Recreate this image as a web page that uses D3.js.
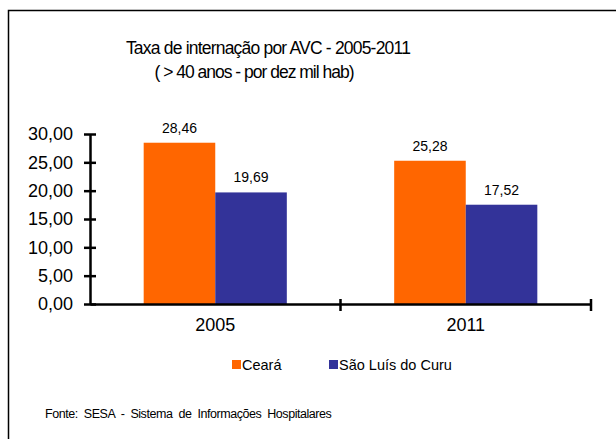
<!DOCTYPE html>
<html><head><meta charset="utf-8">
<script src="https://cdn.jsdelivr.net/npm/d3@7"></script>
<style>
html,body{margin:0;padding:0;background:#fff;}
svg{display:block;font-family:"Liberation Sans",Arial,sans-serif;}
</style></head>
<body><svg id="c" width="616" height="439"></svg>
<script>
const categories = ["2005", "2011"];
const seriesNames = ["Ceará", "São Luís do Curu"];
const cearaValues = [28.46, 25.28];
const saoLuisValues = [19.69, 17.52];
const yTicks = [0, 5, 10, 15, 20, 25, 30];
const colors = ["#FF6600", "#333399"];

const svg = d3.select("#c");
// frame
svg.append("path").attr("d","M8.5,439 V10.5 H616").attr("fill","none").attr("stroke","#000").attr("stroke-width",1.5);

const x0 = d3.scaleBand().domain(categories).range([90, 591]).paddingInner(0).paddingOuter(0);
const x1 = d3.scaleBand().domain(seriesNames).range([0, x0.bandwidth()]).paddingInner(0).paddingOuter(0.75);
const y = d3.scaleLinear().domain([0, 30]).range([304, 134]);

const fmt = v => d3.format(".2f")(v).replace(".", ",");
const data = categories.map((c,i)=>({cat:c, vals:[cearaValues[i], saoLuisValues[i]]}));

const g = svg.append("g");
data.forEach(d=>{
  d.vals.forEach((v,j)=>{
    const xx = x0(d.cat) + x1(seriesNames[j]);
    g.append("rect").attr("x", xx).attr("y", y(v)).attr("width", x1.bandwidth()).attr("height", y(0)-y(v)).attr("fill", colors[j]);
    g.append("text").attr("x", xx + x1.bandwidth()/2).attr("y", y(v) - 10)
      .attr("text-anchor","middle").attr("font-size",14).attr("fill","#000").text(fmt(v));
  });
});

// y axis
const yAxis = d3.axisLeft(y).tickValues(yTicks).tickFormat(fmt).tickSizeInner(6).tickSizeOuter(0).tickPadding(11);
const ya = svg.append("g").attr("transform","translate(90,0)").call(yAxis);
ya.select(".domain").attr("stroke","#000").attr("stroke-width",2.5);
ya.selectAll(".tick line").attr("x2",-6).attr("x1",6).attr("stroke","#000").attr("stroke-width",2.5);
ya.selectAll(".tick text").attr("font-size",18).attr("fill","#000").attr("font-family","Liberation Sans, Arial, sans-serif");

// x axis
const xAxis = d3.axisBottom(x0).tickSize(0).tickPadding(14);
const xa = svg.append("g").attr("transform","translate(0,304)").call(xAxis);
xa.select(".domain").attr("stroke","#000").attr("stroke-width",2.5);
xa.selectAll(".tick text").attr("font-size",18).attr("fill","#000").attr("font-family","Liberation Sans, Arial, sans-serif");
// boundary ticks
const bounds = [x0.range()[0], x0(categories[1]), x0.range()[1]];
xa.selectAll(".bt").data(bounds.slice(1)).enter().append("line")
  .attr("x1",d=>d).attr("x2",d=>d).attr("y1",-5).attr("y2",7).attr("stroke","#000").attr("stroke-width",2.5);

// title
const t = svg.append("text").attr("text-anchor","middle").attr("font-size",17.5).attr("fill","#000");
t.append("tspan").attr("x",268).attr("y",54).attr("letter-spacing",-0.8).text("Taxa de internação por AVC - 2005-2011");
t.append("tspan").attr("x",254).attr("y",78).attr("letter-spacing",-1.0).text("( > 40 anos - por dez mil hab)");

// legend
const lg = svg.append("g");
[[232,"Ceará"],[329,"São Luís do Curu"]].forEach((p,i)=>{
  lg.append("rect").attr("x",p[0]).attr("y",360).attr("width",9).attr("height",9).attr("fill",colors[i]);
  lg.append("text").attr("x",p[0]+10).attr("y",369.5).attr("font-size",14.5).attr("fill","#000").text(seriesNames[i]);
});

// footnote
svg.append("text").attr("x",45).attr("y",418).attr("font-size",12.5).attr("letter-spacing",-0.45).attr("word-spacing",3).attr("fill","#000")
  .text("Fonte: SESA - Sistema de Informações Hospitalares");
</script></body></html>
